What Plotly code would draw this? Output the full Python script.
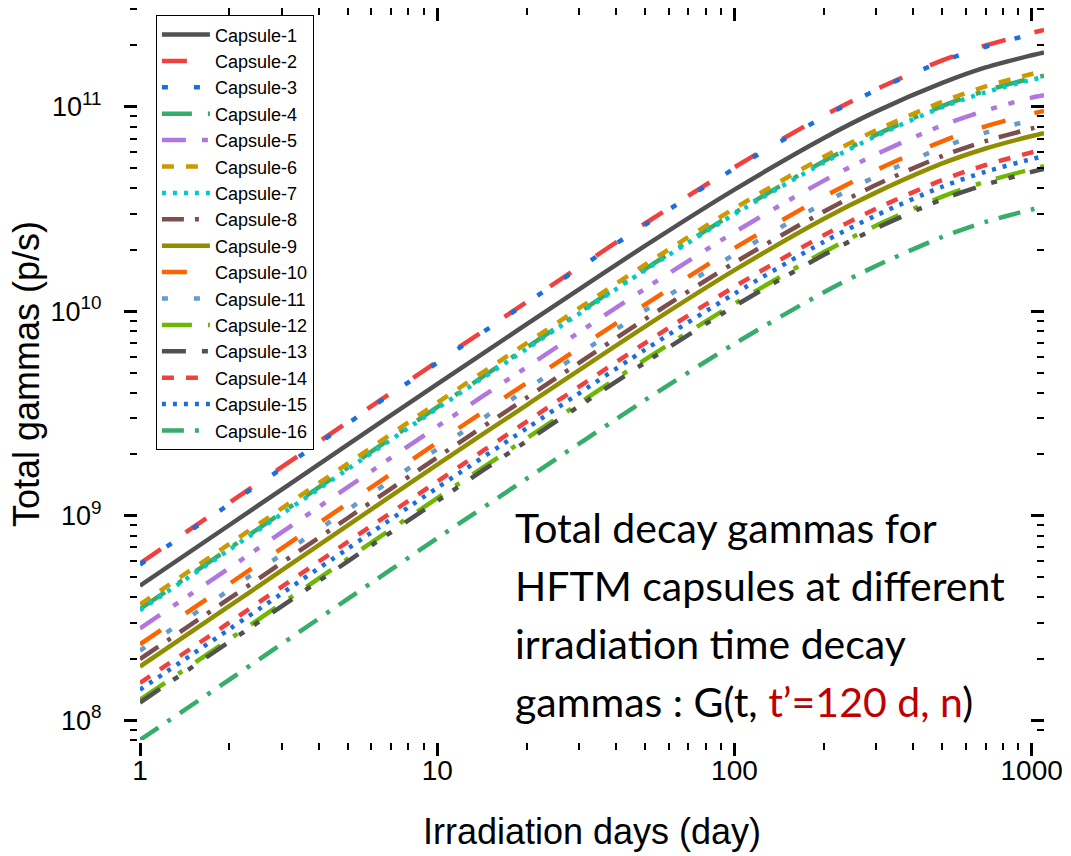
import plotly.graph_objects as go

days = [1, 2, 5, 10, 20, 50, 100, 200, 300, 500, 700, 1000, 1100]

names = [f"Capsule-{i}" for i in range(1, 17)]

cap1 = [4.55e8, 9.01e8, 2.23e9, 4.41e9, 8.65e9, 2.09e10, 3.94e10, 7.05e10, 9.51e10, 1.31e11, 1.56e11, 1.79e11, 1.85e11]
cap2 = [5.85e8, 1.16e9, 2.87e9, 5.67e9, 1.11e10, 2.69e10, 5.07e10, 9.07e10, 1.22e11, 1.69e11, 2.00e11, 2.30e11, 2.38e11]
cap3 = [5.77e8, 1.14e9, 2.83e9, 5.60e9, 1.10e10, 2.65e10, 5.00e10, 8.94e10, 1.21e11, 1.67e11, 1.97e11, 2.27e11, 2.35e11]
cap4 = [3.50e8, 6.93e8, 1.72e9, 3.40e9, 6.65e9, 1.61e10, 3.03e10, 5.43e10, 7.32e10, 1.01e11, 1.20e11, 1.38e11, 1.42e11]
cap5 = [2.81e8, 5.56e8, 1.38e9, 2.73e9, 5.34e9, 1.29e10, 2.44e10, 4.36e10, 5.87e10, 8.12e10, 9.61e10, 1.11e11, 1.14e11]
cap6 = [3.68e8, 7.29e8, 1.80e9, 3.57e9, 6.99e9, 1.69e10, 3.19e10, 5.70e10, 7.69e10, 1.06e11, 1.26e11, 1.45e11, 1.50e11]
cap7 = [3.45e8, 6.83e8, 1.69e9, 3.35e9, 6.56e9, 1.59e10, 2.99e10, 5.35e10, 7.21e10, 9.97e10, 1.18e11, 1.36e11, 1.40e11]
cap8 = [1.99e8, 3.94e8, 9.75e8, 1.93e9, 3.78e9, 9.15e9, 1.73e10, 3.08e10, 4.16e10, 5.75e10, 6.81e10, 7.84e10, 8.10e10]
cap9 = [1.83e8, 3.62e8, 8.97e8, 1.78e9, 3.48e9, 8.42e9, 1.59e10, 2.84e10, 3.82e10, 5.29e10, 6.26e10, 7.21e10, 7.45e10]
cap10 = [2.35e8, 4.65e8, 1.15e9, 2.28e9, 4.47e9, 1.08e10, 2.04e10, 3.64e10, 4.91e10, 6.79e10, 8.04e10, 9.26e10, 9.56e10]
cap11 = [2.19e8, 4.34e8, 1.07e9, 2.12e9, 4.16e9, 1.01e10, 1.90e10, 3.39e10, 4.58e10, 6.33e10, 7.49e10, 8.63e10, 8.91e10]
cap12 = [1.26e8, 2.49e8, 6.17e8, 1.22e9, 2.39e9, 5.80e9, 1.09e10, 1.95e10, 2.63e10, 3.64e10, 4.31e10, 4.96e10, 5.13e10]
cap13 = [1.22e8, 2.42e8, 5.98e8, 1.18e9, 2.32e9, 5.61e9, 1.06e10, 1.89e10, 2.55e10, 3.53e10, 4.17e10, 4.81e10, 4.97e10]
cap14 = [1.52e8, 3.01e8, 7.45e8, 1.47e9, 2.89e9, 6.99e9, 1.32e10, 2.36e10, 3.18e10, 4.39e10, 5.20e10, 5.99e10, 6.19e10]
cap15 = [1.41e8, 2.79e8, 6.91e8, 1.37e9, 2.68e9, 6.49e9, 1.22e10, 2.19e10, 2.95e10, 4.07e10, 4.82e10, 5.56e10, 5.74e10]
cap16 = [8.00e7, 1.58e8, 3.92e8, 7.76e8, 1.52e9, 3.68e9, 6.94e9, 1.24e10, 1.67e10, 2.31e10, 2.74e10, 3.15e10, 3.26e10]

series = [cap1, cap2, cap3, cap4, cap5, cap6, cap7, cap8,
          cap9, cap10, cap11, cap12, cap13, cap14, cap15, cap16]

colors = ["#515151", "#F14040", "#1A6FDF", "#37AD6B", "#B177DE", "#CC9900",
          "#00CBCC", "#7D4E4E", "#8E8E00", "#FB6501", "#6699CC", "#6FB802",
          "#515151", "#F14040", "#1A6FDF", "#37AD6B"]

styles = ["solid", "25px,30px", "6px,26px", "30px,16px,5px,16px",
          "24px,16px,6px,12px,6px,16px", "12px,12px", "4px,7px", "22px,11px,4px,11px"]
dashes = [styles[i % 8] for i in range(16)]

x_ticks = [1, 10, 100, 1000]
x_ticktext = ["1", "10", "100", "1000"]
y_ticks = [1e8, 1e9, 1e10, 1e11]
y_ticktext = ["10<sup>8</sup>", "10<sup>9</sup>", "10<sup>10</sup>", "10<sup>11</sup>"]

x_minor = [m * 10 ** e for e in range(0, 4) for m in range(2, 10)]
y_minor = [m * 10 ** e for e in range(7, 12) for m in range(2, 10)]

fig = go.Figure()
for name, vals, col, dsh in zip(names, series, colors, dashes):
    fig.add_trace(go.Scatter(x=days, y=vals, name=name, mode="lines",
                             line=dict(color=col, width=4.5, dash=dsh, shape="spline", smoothing=0.8)))

fig.add_trace(go.Scatter(x=[], y=[], xaxis="x2", yaxis="y2", showlegend=False, hoverinfo="skip"))

AX = dict(color="black", linewidth=3, showline=True, showgrid=False, zeroline=False,
          ticklen=13, tickwidth=2.5, tickcolor="black")
FONT = "Liberation Sans, Arial, sans-serif"

xr = [0, 3.0414]
yr = [7.903, 11.484]

fig.update_layout(
    width=1071, height=856,
    margin=dict(l=140, r=22, t=8, b=116),
    paper_bgcolor="white", plot_bgcolor="white",
    font=dict(family=FONT, color="black"),
    xaxis=dict(type="log", range=xr, ticks="outside", tickvals=x_ticks, ticktext=x_ticktext,
               tickfont=dict(size=28), ticklabelstandoff=-10,
               minor=dict(tickvals=x_minor, ticks="outside", ticklen=7, tickwidth=2, tickcolor="black"),
               title=dict(text="Irradiation days (day)", font=dict(size=36), standoff=35), **AX),
    yaxis=dict(type="log", range=yr, ticks="outside", tickvals=y_ticks, ticktext=y_ticktext,
               tickfont=dict(size=27), ticklabelstandoff=17,
               minor=dict(tickvals=y_minor, ticks="outside", ticklen=7, tickwidth=2, tickcolor="black"),
               title=dict(text="Total gammas (p/s)", font=dict(size=36), standoff=0), **AX),
    xaxis2=dict(type="log", range=xr, overlaying="x", side="top", anchor="y2", ticks="inside",
                tickvals=x_ticks, showticklabels=False,
                minor=dict(tickvals=x_minor, ticks="inside", ticklen=7, tickwidth=2, tickcolor="black"),
                **AX),
    yaxis2=dict(type="log", range=yr, overlaying="y", side="right", anchor="x2", ticks="inside",
                tickvals=y_ticks, showticklabels=False,
                minor=dict(tickvals=y_minor, ticks="inside", ticklen=7, tickwidth=2, tickcolor="black"),
                **AX),
    legend=dict(x=0.0176, y=0.99, xanchor="left", yanchor="top",
                bgcolor="white", bordercolor="black", borderwidth=1,
                font=dict(family=FONT, size=18), itemwidth=48, tracegroupgap=0),
    showlegend=True,
)

ann_font = dict(family="Lato, Carlito, sans-serif", size=41, color="black")
lines = ["Total decay gammas for",
         "HFTM capsules at different",
         "irradiation time decay",
         "gammas : G(t, <span style='color:#C00000'>t’=120 d, n</span>)"]
line_y_px = [527, 585, 643, 701]
for txt, ypx in zip(lines, line_y_px):
    fig.add_annotation(text=txt, xref="paper", yref="paper",
                       x=(515 - 140) / 909, y=(740 - ypx) / 732,
                       xanchor="left", yanchor="middle", showarrow=False,
                       font=ann_font, align="left")

fig.write_html("out.html")
